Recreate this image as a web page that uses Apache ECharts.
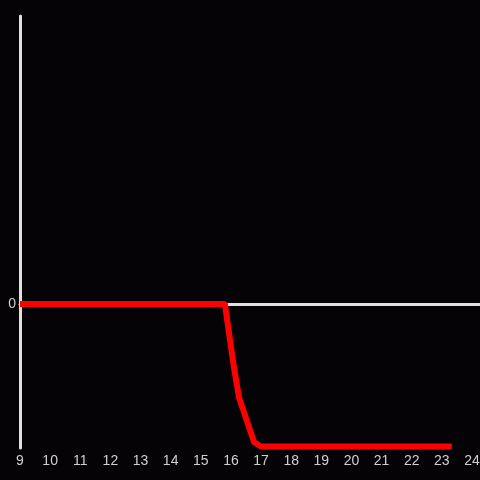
<!DOCTYPE html>
<html>
<head>
<meta charset="utf-8">
<script src="https://cdn.jsdelivr.net/npm/echarts@6/dist/echarts.min.js"></script>
<style>
    html, body { margin: 0; padding: 0; background: #050306; }
    #chart { width: 480px; height: 480px; }
</style>
</head>
<body>
<div id="chart"></div>
<script>
// hour of day and value
var hours = [9, 15.8, 16.1, 16.27, 16.77, 17.0, 23.33];
var values = [0, 0, -0.44, -0.65, -0.96, -0.99, -0.99];
var xTicks = [9, 10, 11, 12, 13, 14, 15, 16, 17, 18, 19, 20, 21, 22, 23, 24];

var points = [];
for (var i = 0; i < hours.length; i++) {
    points.push([hours[i], values[i]]);
}

var myChart = echarts.init(document.getElementById("chart"));
var option = {
    backgroundColor: "#050306",
    animation: false,
    grid: {
        left: 20,
        right: -2,
        top: 16,
        bottom: 32,
        outerBoundsMode: "none",
    },
    xAxis: [
        {
            type: "value",
            min: 9,
            max: 24.333,
            interval: 1,
            axisLine: { show: false, onZero: false },
            axisTick: { show: false },
            splitLine: { show: false },
            axisLabel: {
                color: "#d0d0d0",
                fontSize: 14,
                margin: 6,
                formatter: function (v) {
                    return xTicks.indexOf(v) >= 0 ? String(v) : "";
                },
            },
        },
        {
            type: "value",
            min: 9,
            max: 24.333,
            axisLine: { show: true, onZero: true, lineStyle: { color: "#e0e0e0", width: 3 } },
            axisTick: { show: false },
            axisLabel: { show: false },
            splitLine: { show: false },
        },
    ],
    yAxis: {
        type: "value",
        min: -1,
        max: 2,
        interval: 1,
        axisLine: { show: true, lineStyle: { color: "#e0e0e0", width: 3 } },
        axisTick: { show: false },
        splitLine: { show: false },
        axisLabel: {
            color: "#d0d0d0",
            fontSize: 14,
            margin: 4,
            formatter: function (v) {
                return v === 0 ? "0" : "";
            },
        },
    },
    series: [
        {
            type: "line",
            data: points,
            showSymbol: false,
            lineStyle: { color: "#ff0000", width: 6 },
        },
    ],
};
myChart.setOption(option);
</script>
</body>
</html>
